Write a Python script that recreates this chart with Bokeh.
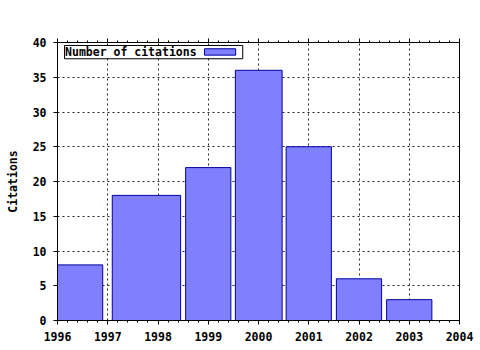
from bokeh.plotting import figure
from bokeh.models import (Range1d, SingleIntervalTicker, LinearAxis, CustomJSTickFormatter,
                          BoxAnnotation, Label, ColumnDataSource)
from bokeh.embed import file_html
from bokeh.resources import INLINE

# ---- data ----
tick_years = [1996, 1997, 1998, 1999, 2000, 2001, 2002, 2003, 2004]
bar_left = [1996.0, 1997.09, 1998.55, 1999.54, 2000.55, 2001.55, 2002.55]
bar_right = [1996.9, 1998.45, 1999.45, 2000.47, 2001.45, 2002.45, 2003.45]
citations = [8, 18, 22, 36, 25, 6, 3]
series_name = "Number of citations"
y_title = "Citations"

FONT = "DejaVu Sans Mono"
FS = "11.5px"

src = ColumnDataSource(dict(left=bar_left, right=bar_right, top=citations,
                            bottom=[0] * len(citations)))

p = figure(width=480, height=350, output_backend="svg", toolbar_location=None,
           x_range=Range1d(tick_years[0], tick_years[-1]), y_range=Range1d(0, 40),
           min_border_left=57, min_border_right=21, min_border_top=42,
           min_border_bottom=30, background_fill_color="white",
           border_fill_color="white")

p.quad(left="left", right="right", top="top", bottom="bottom", source=src,
       fill_color="#8080ff", line_color="#0000a0", line_width=1)

# axes
p.xaxis.ticker = SingleIntervalTicker(interval=1, num_minor_ticks=5)
p.yaxis.ticker = SingleIntervalTicker(interval=5, num_minor_ticks=0)
for ax in (p.xaxis[0], p.yaxis[0]):
    ax.axis_line_color = "black"
    ax.major_tick_line_color = "black"
    ax.minor_tick_line_color = "black"
    ax.major_tick_in = 0
    ax.major_tick_out = 4
    ax.minor_tick_in = 0
    ax.minor_tick_out = 2
    ax.major_label_text_font = FONT
    ax.major_label_text_font_style = "bold"
    ax.major_label_text_font_size = FS
    ax.major_label_text_color = "black"
p.yaxis.minor_tick_line_color = None
p.xaxis.major_label_standoff = 7
p.yaxis.major_label_standoff = 7
p.yaxis.axis_label = y_title
p.yaxis.axis_label_text_font = FONT
p.yaxis.axis_label_text_font_style = "bold"
p.yaxis.axis_label_text_font_size = FS
p.yaxis.axis_label_text_color = "black"
p.yaxis.axis_label_standoff = 10

top_ax = LinearAxis(ticker=SingleIntervalTicker(interval=1, num_minor_ticks=5),
                    formatter=CustomJSTickFormatter(code="return ''"),
                    major_tick_in=0, major_tick_out=4, minor_tick_in=0, minor_tick_out=2,
                    axis_line_color="black", major_tick_line_color="black",
                    minor_tick_line_color="black", major_label_text_font_size="1px")
p.add_layout(top_ax, "above")

p.outline_line_color = "black"
p.outline_line_alpha = 1.0
p.outline_line_width = 1

# grid
p.xgrid.ticker = SingleIntervalTicker(interval=1)
p.ygrid.ticker = SingleIntervalTicker(interval=5)
for g in (p.xgrid[0], p.ygrid[0]):
    g.grid_line_color = "black"
    g.grid_line_alpha = 0.85
    g.grid_line_dash = "2 3"
    g.grid_line_width = 1
    g.level = "underlay"

# legend (text first, sample box to the right, as in the reference)
p.add_layout(BoxAnnotation(left=1996.139, right=1999.686, bottom=37.66, top=39.57,
                           fill_color="white", fill_alpha=1.0, line_color="black",
                           line_alpha=1.0, line_width=1, level="annotation"))
p.add_layout(BoxAnnotation(left=1998.925, right=1999.546, bottom=38.18, top=39.1,
                           fill_color="#8080ff", fill_alpha=1.0, line_color="#0000a0",
                           line_alpha=1.0, line_width=1, level="annotation"))
p.add_layout(Label(x=1996.15, y=38.62, text=series_name, text_font=FONT,
                   text_font_style="bold", text_font_size=FS, text_baseline="middle",
                   text_color="black", level="annotation"))

open("out.html", "w").write(file_html(p, INLINE))
